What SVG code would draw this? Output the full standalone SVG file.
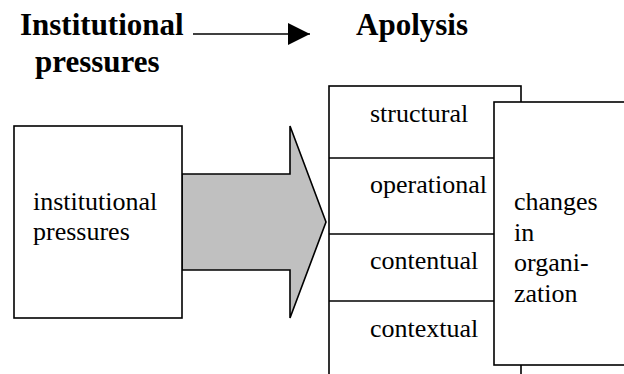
<svg xmlns="http://www.w3.org/2000/svg" width="624" height="374" viewBox="0 0 624 374">
<defs>
<style>
.t{font-family:"Liberation Serif","Times New Roman",serif;font-size:26px;fill:#000}
.h{font-family:"Liberation Serif","Times New Roman",serif;font-size:31px;font-weight:bold;fill:#000}
.b{fill:#fff;stroke:#000;stroke-width:1.6}
</style>
<marker id="ah" markerUnits="userSpaceOnUse" markerWidth="24" markerHeight="22" refX="22" refY="11" orient="auto">
<path d="M0,0 L22,11 L0,22 Z" fill="#000"/>
</marker>
</defs>
<rect width="624" height="374" fill="#fff"/>
<g id="title-left"><text class="h" x="20" y="35">Institutional</text><text class="h" x="35" y="72">pressures</text></g>
<g id="title-right"><text class="h" x="356" y="35">Apolysis</text></g>
<g id="connectors">
<line x1="193" y1="34" x2="310" y2="34" stroke="#000" stroke-width="1.6" marker-end="url(#ah)"/>
<path d="M182,174 L290,174 L290,126 L326,222 L290,318 L290,270 L182,270 Z" fill="#c0c0c0" stroke="#000" stroke-width="1.6" stroke-linejoin="miter"/>
</g>
<g id="node-institutional">
<rect class="b" x="14" y="126" width="168" height="192"/>
<text class="t" x="33" y="210">institutional</text>
<text class="t" x="33" y="240">pressures</text>
</g>
<g id="node-apolysis">
<rect class="b" x="329" y="86" width="192" height="300"/>
<line x1="329" y1="158" x2="494" y2="158" stroke="#000" stroke-width="1.6"/>
<line x1="329" y1="234" x2="494" y2="234" stroke="#000" stroke-width="1.6"/>
<line x1="329" y1="301" x2="494" y2="301" stroke="#000" stroke-width="1.6"/>
<text class="t" x="370" y="122">structural</text>
<text class="t" x="370" y="193">operational</text>
<text class="t" x="370" y="269">contentual</text>
<text class="t" x="370" y="337">contextual</text>
</g>
<g id="node-changes">
<rect class="b" x="494" y="102" width="140" height="263"/>
<text class="t" x="514" y="210">changes</text>
<text class="t" x="514" y="241">in</text>
<text class="t" x="514" y="271">organi-</text>
<text class="t" x="514" y="302">zation</text>
</g>
</svg>
